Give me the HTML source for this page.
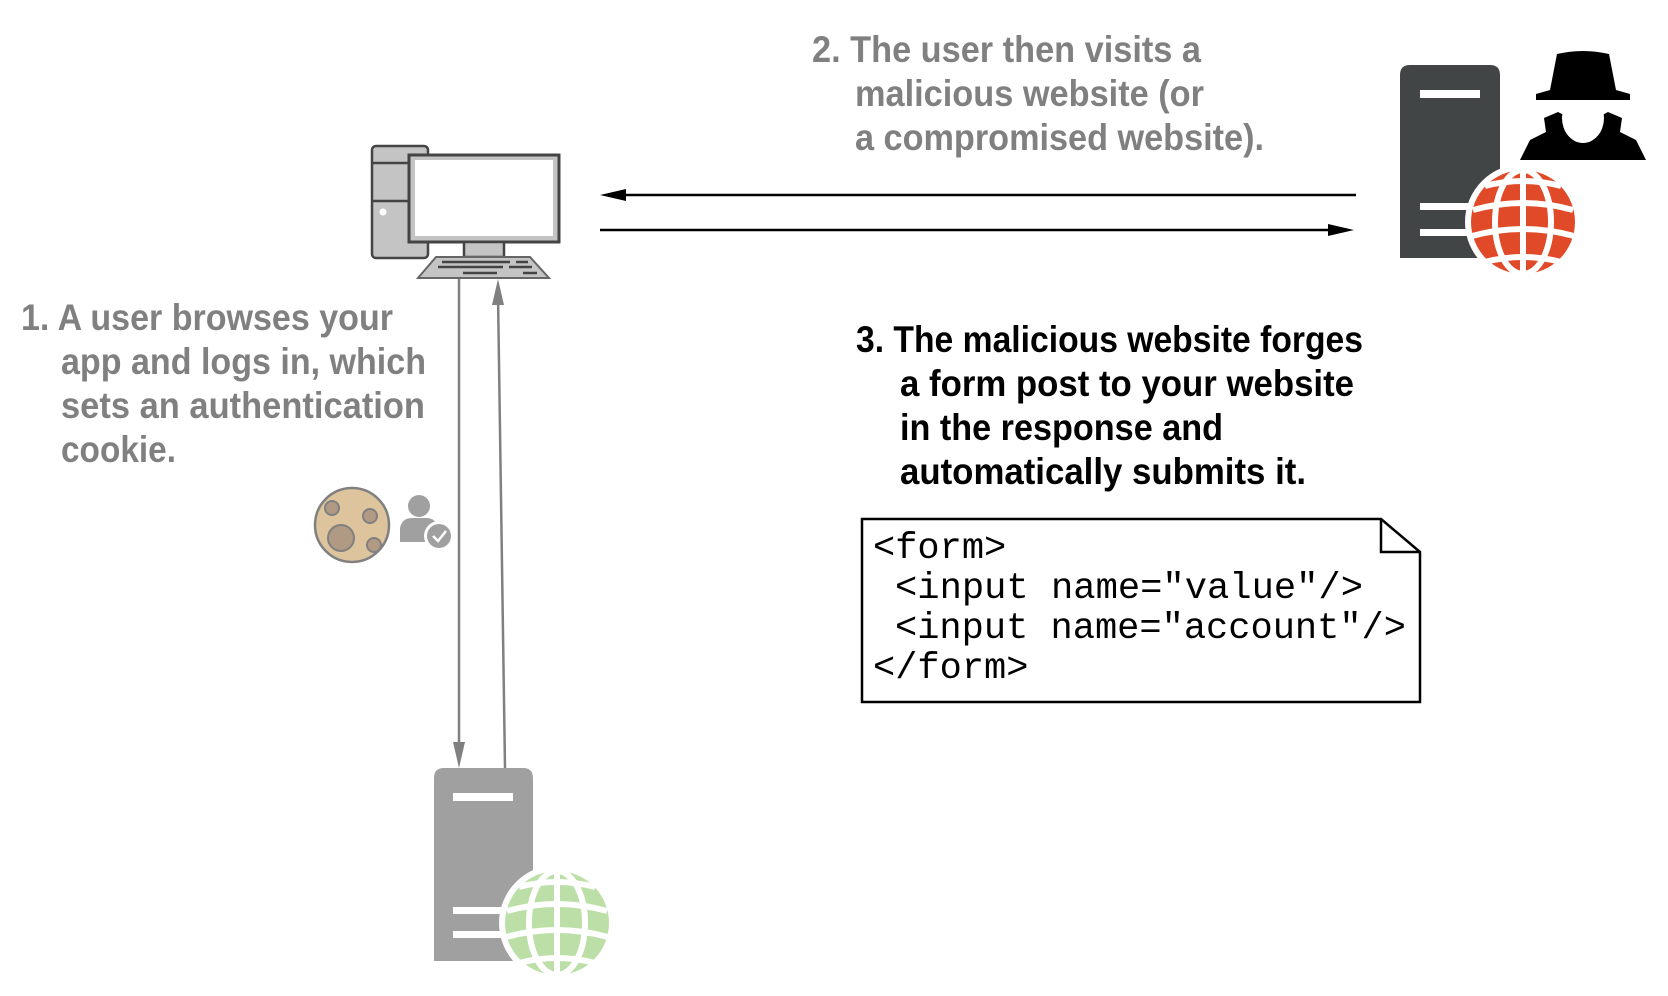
<!DOCTYPE html>
<html><head><meta charset="utf-8"><style>
html,body{margin:0;padding:0;background:#fff;}
svg{display:block;}
.g{font-family:"Liberation Sans",sans-serif;font-weight:bold;font-size:37px;fill:#808080;}
.b{font-family:"Liberation Sans",sans-serif;font-weight:bold;font-size:37px;fill:#000;}
.m{font-family:"Liberation Mono",monospace;font-size:37px;fill:#000;}
</style></head><body>
<svg width="1668" height="996" viewBox="0 0 1668 996" xmlns="http://www.w3.org/2000/svg">

<!-- text 1 -->
<text class="g" x="21" y="330" textLength="372" lengthAdjust="spacingAndGlyphs">1. A user browses your</text>
<text class="g" x="61" y="374" textLength="365" lengthAdjust="spacingAndGlyphs">app and logs in, which</text>
<text class="g" x="61" y="418" textLength="364" lengthAdjust="spacingAndGlyphs">sets an authentication</text>
<text class="g" x="61" y="462" textLength="115" lengthAdjust="spacingAndGlyphs">cookie.</text>

<!-- text 2 -->
<text class="g" x="812" y="62" textLength="389" lengthAdjust="spacingAndGlyphs">2. The user then visits a</text>
<text class="g" x="855" y="106" textLength="349" lengthAdjust="spacingAndGlyphs">malicious website (or</text>
<text class="g" x="855" y="150" textLength="409" lengthAdjust="spacingAndGlyphs">a compromised website).</text>

<!-- text 3 -->
<text class="b" x="856" y="352" textLength="507" lengthAdjust="spacingAndGlyphs">3. The malicious website forges</text>
<text class="b" x="900" y="396" textLength="454" lengthAdjust="spacingAndGlyphs">a form post to your website</text>
<text class="b" x="900" y="440" textLength="323" lengthAdjust="spacingAndGlyphs">in the response and</text>
<text class="b" x="900" y="484" textLength="406" lengthAdjust="spacingAndGlyphs">automatically submits it.</text>

<!-- horizontal arrows -->
<line x1="615" y1="195" x2="1356" y2="195" stroke="#000" stroke-width="2.5"/>
<polygon points="600,195 626,189 626,201" fill="#000"/>
<line x1="600" y1="230" x2="1340" y2="230" stroke="#000" stroke-width="2.5"/>
<polygon points="1354,230 1328,224 1328,236" fill="#000"/>

<!-- vertical arrows -->
<line x1="459" y1="279" x2="459" y2="752" stroke="#808080" stroke-width="2.5"/>
<polygon points="459,768 453,742 465,742" fill="#808080"/>
<line x1="505" y1="768" x2="498" y2="295" stroke="#808080" stroke-width="2.5"/>
<polygon points="498,279 492,305 504,305" fill="#808080"/>

<!-- computer -->
<rect x="372" y="146" width="56" height="112" rx="4" fill="#c4c4c4" stroke="#444" stroke-width="2.5"/>
<line x1="372" y1="163" x2="410" y2="163" stroke="#444" stroke-width="2.5"/>
<line x1="372" y1="201" x2="410" y2="201" stroke="#444" stroke-width="2.5"/>
<circle cx="383" cy="212" r="3.5" fill="#fff"/>
<rect x="409" y="155" width="150" height="87" fill="#c4c4c4" stroke="#444" stroke-width="3"/>
<rect x="415" y="160" width="138" height="76" fill="#fff"/>
<rect x="464" y="242" width="40" height="15" fill="#c4c4c4" stroke="#444" stroke-width="2.5"/>
<polygon points="436,257 530,257 549,278 418,278" fill="#c4c4c4" stroke="#666" stroke-width="2"/>
<g stroke="#444" stroke-width="2.5">
<line x1="442" y1="262" x2="510" y2="262"/><line x1="516" y1="262" x2="528" y2="262"/>
<line x1="438" y1="267" x2="503" y2="267"/><line x1="509" y1="267" x2="532" y2="267"/>
<line x1="463" y1="273" x2="497" y2="273"/><line x1="523" y1="273" x2="537" y2="273"/>
</g>

<!-- cookie -->
<circle cx="352" cy="525" r="37" fill="#ddc49d" stroke="#808080" stroke-width="2.5"/>
<circle cx="332" cy="508" r="7" fill="#b19a84" stroke="#808080" stroke-width="2"/>
<circle cx="370" cy="516" r="7" fill="#b19a84" stroke="#808080" stroke-width="2"/>
<circle cx="341" cy="538" r="13" fill="#b19a84" stroke="#808080" stroke-width="2"/>
<circle cx="374" cy="545" r="7" fill="#b19a84" stroke="#808080" stroke-width="2"/>

<!-- user icon -->
<circle cx="419" cy="506" r="11" fill="#a0a0a0"/>
<path d="M400,542 L400,528 Q402,518 412,518 L426,518 Q436,518 438,528 L438,542 Z" fill="#a0a0a0"/>
<circle cx="439" cy="536" r="15" fill="#fff"/>
<circle cx="439" cy="536" r="12" fill="#a0a0a0"/>
<path d="M433,536 L438,541 L446,531" fill="none" stroke="#fff" stroke-width="2.5"/>

<!-- form box -->
<path d="M862,519 L1381,519 L1420,552 L1420,702 L862,702 Z" fill="#fff" stroke="#000" stroke-width="2.5"/>
<path d="M1381,519 L1381,552 L1420,552" fill="none" stroke="#000" stroke-width="2.5"/>
<text class="m" x="873" y="558">&lt;form&gt;</text>
<text class="m" x="895" y="598" textLength="468" lengthAdjust="spacingAndGlyphs">&lt;input name="value"/&gt;</text>
<text class="m" x="895" y="638" textLength="511" lengthAdjust="spacingAndGlyphs">&lt;input name="account"/&gt;</text>
<text class="m" x="873" y="678">&lt;/form&gt;</text>

<!-- malicious server -->
<path d="M1400,258 L1400,75 Q1400,65 1410,65 L1490,65 Q1500,65 1500,75 L1500,258 Z" fill="#424546"/>
<rect x="1420" y="90" width="60" height="8" fill="#fff"/>
<rect x="1420" y="203" width="60" height="7" fill="#fff"/>
<rect x="1420" y="229" width="60" height="7" fill="#fff"/>
<g transform="translate(1523,222)">
  <circle r="58" fill="#fff"/><circle r="52" fill="#e04a28"/>
  <g fill="none" stroke="#fff" stroke-width="6">
    <line x1="0" y1="-52" x2="0" y2="52"/>
    <ellipse rx="28" ry="52"/>
    <path d="M-50,-12 Q0,-26 50,-12"/>
    <path d="M-51,14 Q0,0 51,14"/>
    <path d="M-38,-36 Q0,-46 38,-36"/>
    <path d="M-38,40 Q0,30 38,40"/>
  </g>
</g>
<!-- spy -->
<path d="M1520,160 L1530,140 L1546,132 L1544,118 L1558,112 L1583,125 L1608,112 L1622,118 L1620,132 L1636,140 L1646,160 Z" fill="#000"/>
<ellipse cx="1583" cy="118" rx="21" ry="25" fill="#fff"/>
<path d="M1550,90 L1557,54 Q1583,48 1609,54 L1616,90 L1630,94 L1630,100 L1536,100 L1536,94 Z" fill="#000"/>

<!-- good server -->
<path d="M434,961 L434,778 Q434,768 444,768 L523,768 Q533,768 533,778 L533,961 Z" fill="#a0a0a0"/>
<rect x="453" y="793" width="60" height="8" fill="#fff"/>
<rect x="453" y="907" width="60" height="7" fill="#fff"/>
<rect x="453" y="931" width="60" height="7" fill="#fff"/>
<g transform="translate(557,923)">
  <circle r="58" fill="#fff"/><circle r="52" fill="#bbdfa6"/>
  <g fill="none" stroke="#fff" stroke-width="6">
    <line x1="0" y1="-52" x2="0" y2="52"/>
    <ellipse rx="28" ry="52"/>
    <path d="M-50,-12 Q0,-26 50,-12"/>
    <path d="M-51,14 Q0,0 51,14"/>
    <path d="M-38,-36 Q0,-46 38,-36"/>
    <path d="M-38,40 Q0,30 38,40"/>
  </g>
</g>
</svg>
</body></html>
